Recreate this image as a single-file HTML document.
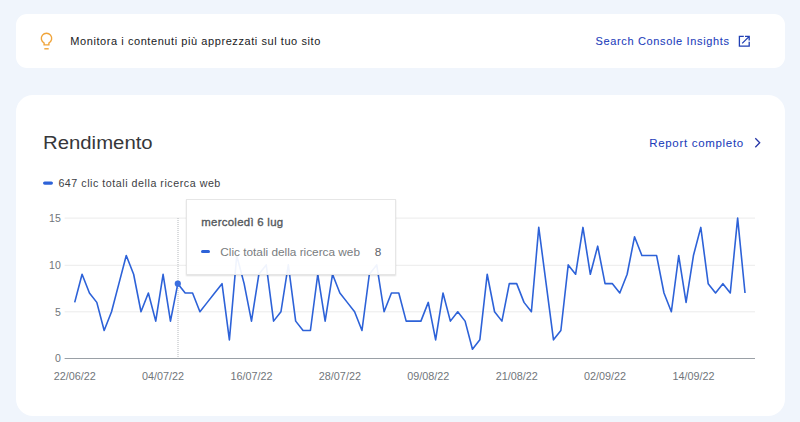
<!DOCTYPE html>
<html><head><meta charset="utf-8">
<style>
html,body{margin:0;padding:0;width:800px;height:422px;overflow:hidden;background:#f0f5fc;font-family:"Liberation Sans",sans-serif;}
.card{position:absolute;background:#fff;}
.t{position:absolute;white-space:nowrap;line-height:1;}
svg{position:absolute;left:0;top:0;}
</style></head><body>
<div class="card" style="left:16px;top:14px;width:769px;height:54px;border-radius:11px;"></div>
<div class="card" style="left:16px;top:95px;width:769px;height:321px;border-radius:17px;"></div>

<div class="t" style="left:70.3px;top:35.8px;font-size:11px;letter-spacing:0.57px;color:#202124;">Monitora i contenuti più apprezzati sul tuo sito</div>
<div class="t" style="left:595.5px;top:35.5px;font-size:11px;letter-spacing:0.65px;color:#1d40bb;-webkit-text-stroke:0.08px #1d40bb;">Search Console Insights</div>
<div class="t" style="left:43.3px;top:132.7px;font-size:19.2px;color:#36373a;transform-origin:0 0;transform:scaleX(1.06);">Rendimento</div>
<div class="t" style="left:649.2px;top:137.9px;font-size:11.5px;letter-spacing:0.69px;color:#1d40bb;-webkit-text-stroke:0.08px #1d40bb;">Report completo</div>
<div class="t" style="left:58.4px;top:177.8px;font-size:10.7px;letter-spacing:0.53px;color:#3c4043;">647 clic totali della ricerca web</div>

<svg width="800" height="422" viewBox="0 0 800 422">
  <!-- bulb -->
  <g fill="none" stroke="#f0a43a" stroke-width="1.4">
    <path d="M44.1 44.9V43A5.2 5.2 0 1 1 48.9 43V44.9Z"/>
    <path d="M44.3 48.8H48.7"/>
  </g>
  <!-- open in new -->
  <g fill="none" stroke="#2040b4" stroke-width="1.3">
    <path d="M743.8 36.4H739.4V46.2H749.2V41.8"/>
    <path d="M742.2 43.4L749 36.6M745 36.4H749.2V40.6"/>
  </g>
  <!-- chevron -->
  <path d="M755.3 138.2L759.7 142.7L755.3 147.2" fill="none" stroke="#2535a6" stroke-width="1.3"/>
  <!-- legend dash -->
  <rect x="43" y="181.4" width="10" height="3.4" rx="1.7" fill="#2d62d8"/>
  <!-- gridlines -->
  <g stroke="#ebebeb" stroke-width="1">
    <line x1="64.6" x2="755" y1="218.1" y2="218.1"/>
    <line x1="64.6" x2="755" y1="265.3" y2="265.3"/>
    <line x1="64.6" x2="755" y1="311.8" y2="311.8"/>
  </g>
  <line x1="64.6" x2="755" y1="358.5" y2="358.5" stroke="#9aa0a6" stroke-width="1"/>
  <g font-family="Liberation Sans" font-size="10.5" fill="#70757a" text-anchor="end">
    <text x="60.8" y="222">15</text>
    <text x="60.8" y="268.8">10</text>
    <text x="60.8" y="315.5">5</text>
    <text x="60.8" y="362.2">0</text>
  </g>
  <g font-family="Liberation Sans" font-size="10.8" fill="#70757a"><text x="74.70" y="380" text-anchor="middle">22/06/22</text><text x="163.09" y="380" text-anchor="middle">04/07/22</text><text x="251.48" y="380" text-anchor="middle">16/07/22</text><text x="339.88" y="380" text-anchor="middle">28/07/22</text><text x="428.27" y="380" text-anchor="middle">09/08/22</text><text x="516.66" y="380" text-anchor="middle">21/08/22</text><text x="605.05" y="380" text-anchor="middle">02/09/22</text><text x="693.44" y="380" text-anchor="middle">14/09/22</text></g>
  <line x1="178" x2="178" y1="218" y2="358" stroke="#b4b8bc" stroke-width="1" stroke-dasharray="1 1"/>
  <polyline points="74.70,302.38 82.07,274.27 89.43,293.01 96.80,302.38 104.16,330.49 111.53,311.75 118.90,283.64 126.26,255.53 133.63,274.27 140.99,311.75 148.36,293.01 155.73,321.12 163.09,274.27 170.46,321.12 177.82,283.64 185.19,293.01 192.56,293.01 199.92,311.75 207.29,302.38 214.65,293.01 222.02,283.64 229.39,339.86 236.75,255.53 244.12,283.64 251.48,321.12 258.85,274.27 266.22,264.90 273.58,321.12 280.95,311.75 288.31,264.90 295.68,321.12 303.05,330.49 310.41,330.49 317.78,274.27 325.14,321.12 332.51,274.27 339.88,293.01 347.24,302.38 354.61,311.75 361.97,330.49 369.34,274.27 376.71,264.90 384.07,311.75 391.44,293.01 398.80,293.01 406.17,321.12 413.54,321.12 420.90,321.12 428.27,302.38 435.63,339.86 443.00,293.01 450.37,321.12 457.73,311.75 465.10,321.12 472.46,349.23 479.83,339.86 487.20,274.27 494.56,311.75 501.93,321.12 509.29,283.64 516.66,283.64 524.03,302.38 531.39,311.75 538.76,227.42 546.12,283.64 553.49,339.86 560.86,330.49 568.22,264.90 575.59,274.27 582.95,227.42 590.32,274.27 597.69,246.16 605.05,283.64 612.42,283.64 619.78,293.01 627.15,274.27 634.52,236.79 641.88,255.53 649.25,255.53 656.61,255.53 663.98,293.01 671.35,311.75 678.71,255.53 686.08,302.38 693.44,255.53 700.81,227.42 708.18,283.64 715.54,293.01 722.91,283.64 730.27,293.01 737.64,218.05 745.01,293.01" fill="none" stroke="#2d62d8" stroke-width="1.6" stroke-linejoin="round"/>
  <circle cx="177.8" cy="283.7" r="3.1" fill="#3b6fe0"/>
</svg>

<div style="position:absolute;left:186px;top:199.3px;width:207.5px;height:73.5px;background:rgba(255,255,255,0.93);border:1px solid #e6e6e6;box-shadow:0 1px 1.5px rgba(0,0,0,0.13);"></div>
<div class="t" style="left:201.3px;top:217.2px;font-size:11.4px;letter-spacing:0.28px;-webkit-text-stroke:0.35px #55595d;color:#55595d;">mercoledì 6 lug</div>
<div style="position:absolute;left:201px;top:250.1px;width:9px;height:3px;border-radius:1.5px;background:#2d62d8;"></div>
<div class="t" style="left:220.3px;top:247.4px;font-size:11.8px;color:#787c80;">Clic totali della ricerca web</div>
<div class="t" style="left:374.8px;top:247.4px;font-size:11.8px;color:#5f6368;">8</div>
</body></html>
